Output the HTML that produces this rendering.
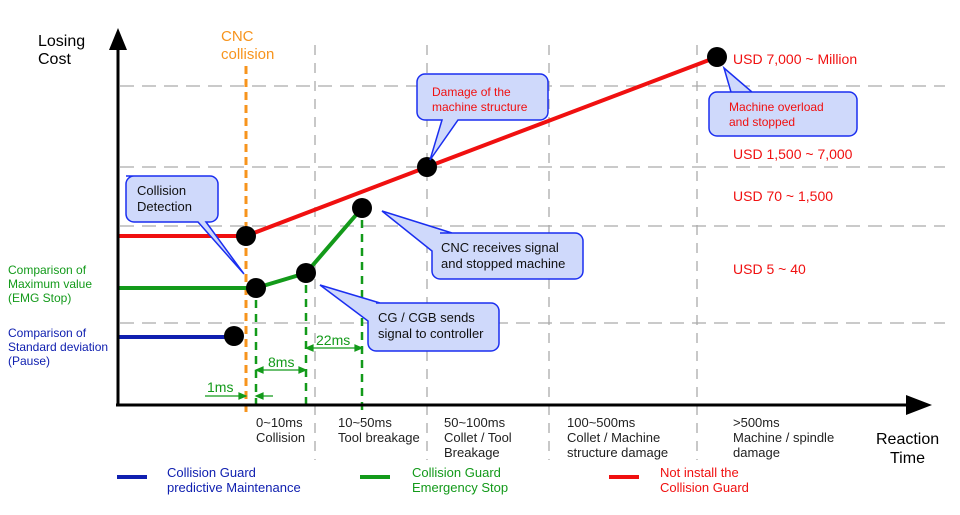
<!DOCTYPE html>
<html><head><meta charset="utf-8"><style>
html,body{margin:0;padding:0;background:#fff;}
svg{display:block;font-family:"Liberation Sans",sans-serif;}
</style></head><body>
<svg width="960" height="515" viewBox="0 0 960 515" xmlns="http://www.w3.org/2000/svg">
<g stroke="#aaa" stroke-width="1.3" stroke-dasharray="14,8" fill="none">
<line x1="120" y1="86" x2="945" y2="86"/>
<line x1="120" y1="167" x2="945" y2="167"/>
<line x1="120" y1="226" x2="945" y2="226"/>
<line x1="120" y1="323" x2="945" y2="323"/>
</g>
<g stroke="#aaa" stroke-width="1.3" stroke-dasharray="10,8" fill="none">
<line x1="315" y1="45" x2="315" y2="460"/>
<line x1="427" y1="45" x2="427" y2="460"/>
<line x1="549" y1="45" x2="549" y2="460"/>
<line x1="697" y1="45" x2="697" y2="460"/>
</g>
<line x1="246" y1="66" x2="246" y2="412" stroke="#f7941d" stroke-width="3" stroke-dasharray="8,5"/>
<g stroke="#139a1a" stroke-width="2.5" stroke-dasharray="8,6">
<line x1="256" y1="300" x2="256" y2="404"/>
<line x1="306" y1="285" x2="306" y2="404"/>
<line x1="362" y1="220" x2="362" y2="412"/>
</g>
<g stroke="#139a1a" stroke-width="1.2" fill="#139a1a">
<line x1="205" y1="396" x2="246" y2="396"/><path d="M246 396 l-7 -3 v6z"/>
<line x1="256" y1="396" x2="273" y2="396"/><path d="M256 396 l7 -3 v6z"/>
<line x1="256" y1="370" x2="306" y2="370"/><path d="M256 370 l7 -3 v6z M306 370 l-7 -3 v6z"/>
<line x1="306" y1="348" x2="362" y2="348"/><path d="M306 348 l7 -3 v6z M362 348 l-7 -3 v6z"/>
</g>
<g fill="#139a1a" font-size="14"><text x="207" y="392">1ms</text><text x="268" y="367">8ms</text><text x="316" y="345">22ms</text></g>
<polyline points="118,236 246,236 427,167 717,57" fill="none" stroke="#f01010" stroke-width="4"/>
<polyline points="118,288 256,288 306,273 362,208" fill="none" stroke="#139a1a" stroke-width="4"/>
<line x1="118" y1="337" x2="234" y2="337" stroke="#1020b0" stroke-width="4"/>
<g fill="#000"><circle cx="234" cy="336" r="10"/><circle cx="246" cy="236" r="10"/><circle cx="256" cy="288" r="10"/><circle cx="306" cy="273" r="10"/><circle cx="362" cy="208" r="10"/><circle cx="427" cy="167" r="10"/><circle cx="717" cy="57" r="10"/></g>
<line x1="118" y1="405" x2="118" y2="45" stroke="#000" stroke-width="3"/>
<path d="M118 28 l-9 22 h18z" fill="#000"/>
<line x1="116" y1="405" x2="920" y2="405" stroke="#000" stroke-width="3"/>
<path d="M932 405 l-26 -10 v20z" fill="#000"/>
<g fill="#000" font-size="16"><text x="38" y="46">Losing</text><text x="38" y="64">Cost</text><text x="876" y="444">Reaction</text><text x="890" y="463">Time</text></g>
<g fill="#f7941d" font-size="15"><text x="221" y="41">CNC</text><text x="221" y="59">collision</text></g>
<g fill="#139a1a" font-size="12"><text x="8" y="274">Comparison of</text><text x="8" y="288">Maximum value</text><text x="8" y="302">(EMG Stop)</text></g>
<g fill="#1020b0" font-size="12"><text x="8" y="337">Comparison of</text><text x="8" y="351">Standard deviation</text><text x="8" y="365">(Pause)</text></g>
<g fill="#f01010" font-size="14"><text x="733" y="64">USD 7,000 ~ Million</text><text x="733" y="159">USD 1,500 ~ 7,000</text><text x="733" y="201">USD 70 ~ 1,500</text><text x="733" y="274">USD 5 ~ 40</text></g>
<g fill="#222" font-size="13">
<text x="256" y="427">0~10ms</text><text x="256" y="442">Collision</text>
<text x="338" y="427">10~50ms</text><text x="338" y="442">Tool breakage</text>
<text x="444" y="427">50~100ms</text><text x="444" y="442">Collet / Tool</text><text x="444" y="457">Breakage</text>
<text x="567" y="427">100~500ms</text><text x="567" y="442">Collet / Machine</text><text x="567" y="457">structure damage</text>
<text x="733" y="427">&gt;500ms</text><text x="733" y="442">Machine / spindle</text><text x="733" y="457">damage</text>
</g>
<g stroke="#1a2ef0" stroke-width="1.5" fill="#cfd9fb">
<path d="M126 176 h84 a8 8 0 0 1 8 8 v30 a8 8 0 0 1 -8 8 h-4 l38 52 l-46 -52 h-64 a8 8 0 0 1 -8 -8 v-30 a8 8 0 0 1 8 -8z"/>
<path d="M425 74 h115 a8 8 0 0 1 8 8 v30 a8 8 0 0 1 -8 8 h-82 l-28 40 l12 -40 h-17 a8 8 0 0 1 -8 -8 v-30 a8 8 0 0 1 8 -8z"/>
<path d="M717 92 h132 a8 8 0 0 1 8 8 v28 a8 8 0 0 1 -8 8 h-132 a8 8 0 0 1 -8 -8 v-28 a8 8 0 0 1 8 -8 h14 l-7 -24 l28 24z"/>
<path d="M440 233 h135 a8 8 0 0 1 8 8 v30 a8 8 0 0 1 -8 8 h-135 a8 8 0 0 1 -8 -8 v-20 l-50 -40 l70 22z"/>
<path d="M376 303 h115 a8 8 0 0 1 8 8 v32 a8 8 0 0 1 -8 8 h-115 a8 8 0 0 1 -8 -8 v-22 l-48 -36 l60 18z"/>
</g>
<g fill="#111" font-size="13"><text x="137" y="195">Collision</text><text x="137" y="211">Detection</text>
<text x="441" y="252">CNC receives signal</text><text x="441" y="268">and stopped machine</text>
<text x="378" y="322">CG / CGB sends</text><text x="378" y="338">signal to controller</text></g>
<g fill="#f01010" font-size="12"><text x="432" y="96">Damage of the</text><text x="432" y="111">machine structure</text><text x="729" y="111">Machine overload</text><text x="729" y="126">and stopped</text></g>
<rect x="117" y="475" width="30" height="4" fill="#1020b0"/>
<rect x="360" y="475" width="30" height="4" fill="#139a1a"/>
<rect x="609" y="475" width="30" height="4" fill="#f01010"/>
<g font-size="13"><text x="167" y="477" fill="#1020b0">Collision Guard</text><text x="167" y="492" fill="#1020b0">predictive Maintenance</text>
<text x="412" y="477" fill="#139a1a">Collision Guard</text><text x="412" y="492" fill="#139a1a">Emergency Stop</text>
<text x="660" y="477" fill="#f01010">Not install the</text><text x="660" y="492" fill="#f01010">Collision Guard</text></g>
</svg>
</body></html>
